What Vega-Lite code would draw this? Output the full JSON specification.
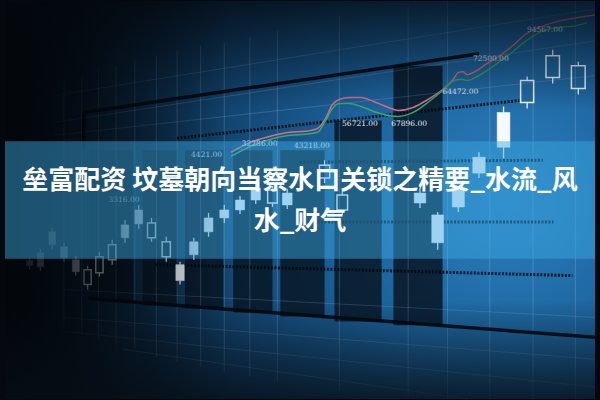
{
  "$schema": "https://vega.github.io/schema/vega-lite/v6.json",
  "width": 600,
  "height": 400,
  "autosize": {"type": "fit", "contains": "padding"},
  "padding": 0,
  "background": "#05090f",
  "config": {"view": {"stroke": null}},
  "datasets": {
    "canvas": [{"x": 0, "x2": 600, "y": 0, "y2": 400}],
    "leftshade": [{"x": 0, "x2": 230, "y": 0, "y2": 400}],
    "topshade": [{"x": 0, "x2": 600, "y": 0, "y2": 110}],
    "bottomshade": [{"x": 0, "x2": 600, "y": 300, "y2": 400}],
    "band": [{"x": 0, "x2": 600, "y": 141, "y2": 259}],
    "vgrid": [
      {"t": 60, "top": 80, "bottom": 330}, {"t": 78, "top": 75, "bottom": 335},
      {"t": 95, "top": 70, "bottom": 340}, {"t": 113, "top": 65, "bottom": 345},
      {"t": 132, "top": 60, "bottom": 350}, {"t": 154, "top": 55, "bottom": 358},
      {"t": 175, "top": 50, "bottom": 363}, {"t": 199, "top": 45, "bottom": 368},
      {"t": 223, "top": 42, "bottom": 373}, {"t": 249, "top": 36, "bottom": 378},
      {"t": 277, "top": 30, "bottom": 383}, {"t": 340, "top": 15, "bottom": 392},
      {"t": 410, "top": 5, "bottom": 398}, {"t": 450, "top": 0, "bottom": 400},
      {"t": 493, "top": 0, "bottom": 400}, {"t": 537, "top": 0, "bottom": 400},
      {"t": 580, "top": 0, "bottom": 400}
    ],
    "sgrid": [
      {"x": 50, "y": 95, "x2": 600, "y2": 8}, {"x": 50, "y": 122, "x2": 600, "y2": 40},
      {"x": 50, "y": 135, "x2": 600, "y2": 75}, {"x": 60, "y": 290, "x2": 600, "y2": 318},
      {"x": 60, "y": 318, "x2": 600, "y2": 360}, {"x": 60, "y": 332, "x2": 600, "y2": 388},
      {"x": 120, "y": 350, "x2": 470, "y2": 400}
    ],
    "panels": [
      {"x": 86, "x2": 130, "y": 150, "y2": 302}, {"x": 140, "x2": 175, "y": 150, "y2": 306},
      {"x": 183, "x2": 222, "y": 150, "y2": 309}, {"x": 232, "x2": 272, "y": 150, "y2": 313},
      {"x": 280, "x2": 325, "y": 150, "y2": 317}, {"x": 335, "x2": 383, "y": 120, "y2": 322},
      {"x": 395, "x2": 445, "y": 65, "y2": 326}
    ],
    "solidstrokes": [
      {"x": 80, "y": 112, "x2": 482, "y2": 53}, {"x": 80, "y": 112, "x2": 80, "y2": 150},
      {"x": 84, "y": 299, "x2": 600, "y2": 338}
    ],
    "dottedstrokes": [
      {"x": 175, "y": 138, "x2": 523, "y2": 100}, {"x": 300, "y": 162, "x2": 547, "y2": 160},
      {"x": 300, "y": 222, "x2": 558, "y2": 222}, {"x": 153, "y": 265, "x2": 577, "y2": 276}
    ],
    "candles": [
      {"t": 25, "bodyTop": 261, "bodyBot": 266, "hi": 258, "lo": 270, "kind": "filled"},
      {"t": 36, "bodyTop": 253, "bodyBot": 267, "hi": 249, "lo": 271, "kind": "filled"},
      {"t": 48, "bodyTop": 232, "bodyBot": 245, "hi": 228, "lo": 250, "kind": "filled"},
      {"t": 60, "bodyTop": 247, "bodyBot": 258, "hi": 243, "lo": 262, "kind": "filled"},
      {"t": 72, "bodyTop": 260, "bodyBot": 272, "hi": 256, "lo": 276, "kind": "filled"},
      {"t": 84, "bodyTop": 270, "bodyBot": 285, "hi": 266, "lo": 290, "kind": "hollow"},
      {"t": 96, "bodyTop": 257, "bodyBot": 273, "hi": 252, "lo": 277, "kind": "hollow"},
      {"t": 109, "bodyTop": 245, "bodyBot": 260, "hi": 240, "lo": 265, "kind": "hollow"},
      {"t": 122, "bodyTop": 225, "bodyBot": 238, "hi": 220, "lo": 243, "kind": "filled"},
      {"t": 136, "bodyTop": 210, "bodyBot": 224, "hi": 205, "lo": 229, "kind": "filled"},
      {"t": 149, "bodyTop": 223, "bodyBot": 238, "hi": 218, "lo": 242, "kind": "hollow"},
      {"t": 164, "bodyTop": 242, "bodyBot": 257, "hi": 237, "lo": 262, "kind": "hollow"},
      {"t": 178, "bodyTop": 265, "bodyBot": 281, "hi": 262, "lo": 285, "kind": "filled"},
      {"t": 192, "bodyTop": 242, "bodyBot": 255, "hi": 238, "lo": 260, "kind": "filled"},
      {"t": 207, "bodyTop": 218, "bodyBot": 232, "hi": 213, "lo": 237, "kind": "filled"},
      {"t": 223, "bodyTop": 210, "bodyBot": 218, "hi": 205, "lo": 223, "kind": "filled"},
      {"t": 239, "bodyTop": 200, "bodyBot": 210, "hi": 196, "lo": 214, "kind": "filled"},
      {"t": 255, "bodyTop": 188, "bodyBot": 200, "hi": 184, "lo": 204, "kind": "filled"},
      {"t": 272, "bodyTop": 190, "bodyBot": 203, "hi": 186, "lo": 207, "kind": "hollow"},
      {"t": 287, "bodyTop": 193, "bodyBot": 205, "hi": 189, "lo": 209, "kind": "filled"},
      {"t": 325, "bodyTop": 165, "bodyBot": 178, "hi": 160, "lo": 183, "kind": "hollow"},
      {"t": 343, "bodyTop": 195, "bodyBot": 210, "hi": 190, "lo": 215, "kind": "hollow"},
      {"t": 422, "bodyTop": 193, "bodyBot": 203, "hi": 188, "lo": 208, "kind": "filled"},
      {"t": 440, "bodyTop": 215, "bodyBot": 243, "hi": 212, "lo": 250, "kind": "filled"},
      {"t": 461, "bodyTop": 190, "bodyBot": 207, "hi": 186, "lo": 212, "kind": "filled"},
      {"t": 482, "bodyTop": 157, "bodyBot": 173, "hi": 152, "lo": 178, "kind": "filled"},
      {"t": 507, "bodyTop": 112, "bodyBot": 147, "hi": 106, "lo": 158, "kind": "filled"},
      {"t": 531, "bodyTop": 80, "bodyBot": 102, "hi": 76, "lo": 108, "kind": "hollow"},
      {"t": 557, "bodyTop": 55, "bodyBot": 77, "hi": 49, "lo": 83, "kind": "hollow"},
      {"t": 583, "bodyTop": 65, "bodyBot": 88, "hi": 61, "lo": 94, "kind": "hollow"}
    ],
    "ma": [
      {"t": 230, "v": 152, "series": "MA5"}, {"t": 250, "v": 142, "series": "MA5"},
      {"t": 270, "v": 136, "series": "MA5"}, {"t": 290, "v": 132, "series": "MA5"},
      {"t": 305, "v": 131, "series": "MA5"}, {"t": 318, "v": 128, "series": "MA5"},
      {"t": 326, "v": 118, "series": "MA5"}, {"t": 333, "v": 104, "series": "MA5"},
      {"t": 340, "v": 99, "series": "MA5"}, {"t": 350, "v": 97, "series": "MA5"},
      {"t": 362, "v": 97, "series": "MA5"}, {"t": 375, "v": 101, "series": "MA5"},
      {"t": 390, "v": 107, "series": "MA5"}, {"t": 400, "v": 110, "series": "MA5"},
      {"t": 415, "v": 107, "series": "MA5"}, {"t": 430, "v": 99, "series": "MA5"},
      {"t": 445, "v": 89, "series": "MA5"}, {"t": 455, "v": 80, "series": "MA5"},
      {"t": 461, "v": 72, "series": "MA5"}, {"t": 466, "v": 71, "series": "MA5"},
      {"t": 470, "v": 74, "series": "MA5"}, {"t": 478, "v": 71, "series": "MA5"},
      {"t": 490, "v": 63, "series": "MA5"}, {"t": 500, "v": 57, "series": "MA5"},
      {"t": 515, "v": 46, "series": "MA5"}, {"t": 530, "v": 33, "series": "MA5"},
      {"t": 545, "v": 26, "series": "MA5"}, {"t": 560, "v": 21, "series": "MA5"},
      {"t": 580, "v": 17, "series": "MA5"}, {"t": 600, "v": 14, "series": "MA5"},
      {"t": 230, "v": 156, "series": "MA10"}, {"t": 250, "v": 146, "series": "MA10"},
      {"t": 270, "v": 139, "series": "MA10"}, {"t": 290, "v": 135, "series": "MA10"},
      {"t": 305, "v": 134, "series": "MA10"}, {"t": 318, "v": 132, "series": "MA10"},
      {"t": 326, "v": 120, "series": "MA10"}, {"t": 333, "v": 108, "series": "MA10"},
      {"t": 340, "v": 103, "series": "MA10"}, {"t": 350, "v": 103, "series": "MA10"},
      {"t": 362, "v": 106, "series": "MA10"}, {"t": 375, "v": 111, "series": "MA10"},
      {"t": 390, "v": 115, "series": "MA10"}, {"t": 400, "v": 116, "series": "MA10"},
      {"t": 415, "v": 112, "series": "MA10"}, {"t": 430, "v": 102, "series": "MA10"},
      {"t": 445, "v": 90, "series": "MA10"}, {"t": 455, "v": 81, "series": "MA10"},
      {"t": 461, "v": 79, "series": "MA10"}, {"t": 466, "v": 79, "series": "MA10"},
      {"t": 470, "v": 80, "series": "MA10"}, {"t": 478, "v": 77, "series": "MA10"},
      {"t": 490, "v": 70, "series": "MA10"}, {"t": 500, "v": 63, "series": "MA10"},
      {"t": 515, "v": 52, "series": "MA10"}, {"t": 530, "v": 40, "series": "MA10"},
      {"t": 545, "v": 31, "series": "MA10"}, {"t": 560, "v": 27, "series": "MA10"},
      {"t": 580, "v": 25, "series": "MA10"}, {"t": 592, "v": 22, "series": "MA10"}
    ],
    "labels": [
      {"t": 549, "v": 29, "label": "94567.00"},
      {"t": 494, "v": 58, "label": "72500.00"},
      {"t": 463, "v": 91, "label": "64472.00"},
      {"t": 361, "v": 124, "label": "56721.00"},
      {"t": 411, "v": 124, "label": "67896.00"},
      {"t": 312, "v": 146, "label": "43218.00"},
      {"t": 259, "v": 144, "label": "32286.00"},
      {"t": 205, "v": 155, "label": "4421.00"},
      {"t": 121, "v": 200, "label": "3316.00"}
    ],
    "title": [
      {"t": 300, "v": 181, "text": "垒富配资 坟墓朝向当察水口关锁之精要_水流_风"},
      {"t": 300, "v": 222, "text": "水_财气"}
    ]
  },
  "encoding": {
    "x": {"field": "x", "type": "quantitative", "scale": {"domain": [0, 600], "nice": false, "zero": false}, "axis": null},
    "y": {"field": "y", "type": "quantitative", "scale": {"domain": [0, 400], "nice": false, "zero": false, "reverse": true}, "axis": null}
  },
  "layer": [
    {
      "data": {"name": "canvas"},
      "mark": {"type": "rect", "fill": {"gradient": "radial", "x1": 0.85, "y1": 0.5, "r1": 0, "x2": 0.85, "y2": 0.5, "r2": 0.95,
        "stops": [{"offset": 0, "color": "#2a7fbd"}, {"offset": 0.3, "color": "#1c629c"}, {"offset": 0.6, "color": "#0f3a60"}, {"offset": 0.85, "color": "#071a2c"}, {"offset": 1, "color": "#03080e"}]}},
      "encoding": {"x2": {"field": "x2"}, "y2": {"field": "y2"}}
    },
    {
      "data": {"name": "panels"},
      "mark": {"type": "rect", "fill": "#081624", "opacity": 0.85},
      "encoding": {"x2": {"field": "x2"}, "y2": {"field": "y2"}}
    },
    {
      "data": {"name": "vgrid"},
      "mark": {"type": "rule", "stroke": "#cfe6ff", "strokeWidth": 1, "opacity": 0.2},
      "encoding": {"x": {"field": "t", "type": "quantitative"}, "y": {"field": "top", "type": "quantitative"}, "y2": {"field": "bottom"}}
    },
    {
      "data": {"name": "sgrid"},
      "mark": {"type": "rule", "stroke": "#cfe6ff", "strokeWidth": 1, "opacity": 0.16},
      "encoding": {"x2": {"field": "x2"}, "y2": {"field": "y2"}}
    },
    {
      "data": {"name": "solidstrokes"},
      "mark": {"type": "rule", "stroke": "#03080e", "strokeWidth": 3.5, "opacity": 0.9},
      "encoding": {"x2": {"field": "x2"}, "y2": {"field": "y2"}}
    },
    {
      "data": {"name": "dottedstrokes"},
      "mark": {"type": "rule", "stroke": "#03080e", "strokeWidth": 3, "strokeDash": [2, 1.5], "opacity": 0.85},
      "encoding": {"x2": {"field": "x2"}, "y2": {"field": "y2"}}
    },
    {
      "data": {"name": "candles"},
      "mark": {"type": "rule", "stroke": "#f2f8ff", "strokeWidth": 1.3},
      "encoding": {"x": {"field": "t", "type": "quantitative"}, "y": {"field": "hi", "type": "quantitative"}, "y2": {"field": "bodyTop"}}
    },
    {
      "data": {"name": "candles"},
      "mark": {"type": "rule", "stroke": "#f2f8ff", "strokeWidth": 1.3},
      "encoding": {"x": {"field": "t", "type": "quantitative"}, "y": {"field": "bodyBot", "type": "quantitative"}, "y2": {"field": "lo"}}
    },
    {
      "data": {"name": "candles"},
      "transform": [{"filter": "datum.kind === 'filled'"}],
      "mark": {"type": "bar", "fill": "#f4faff", "stroke": "#ffffff", "strokeWidth": 0.5},
      "encoding": {
        "x": {"field": "t", "type": "quantitative"},
        "y": {"field": "bodyTop", "type": "quantitative"},
        "y2": {"field": "bodyBot"},
        "size": {"field": "t", "type": "quantitative", "scale": {"domain": [0, 600], "range": [6, 14]}, "legend": null}
      }
    },
    {
      "data": {"name": "candles"},
      "transform": [{"filter": "datum.kind === 'hollow'"}],
      "mark": {"type": "bar", "fill": "transparent", "stroke": "#f4faff", "strokeWidth": 1.5},
      "encoding": {
        "x": {"field": "t", "type": "quantitative"},
        "y": {"field": "bodyTop", "type": "quantitative"},
        "y2": {"field": "bodyBot"},
        "size": {"field": "t", "type": "quantitative", "scale": {"domain": [0, 600], "range": [6, 14]}, "legend": null}
      }
    },
    {
      "data": {"name": "ma"},
      "mark": {"type": "line", "strokeWidth": 1.5, "interpolate": "monotone"},
      "encoding": {
        "x": {"field": "t", "type": "quantitative"},
        "y": {"field": "v", "type": "quantitative"},
        "color": {"field": "series", "type": "nominal", "scale": {"domain": ["MA5", "MA10"], "range": ["#d86e80", "#3aa866"]}, "legend": null}
      }
    },
    {
      "data": {"name": "labels"},
      "mark": {"type": "text", "font": "DejaVu Serif", "fontSize": 7.5, "fill": "#e4ecf4", "align": "center", "baseline": "middle"},
      "encoding": {
        "x": {"field": "t", "type": "quantitative"},
        "y": {"field": "v", "type": "quantitative"},
        "text": {"field": "label"}
      }
    },
    {
      "data": {"name": "leftshade"},
      "mark": {"type": "rect", "fill": {"gradient": "linear", "x1": 0, "y1": 0, "x2": 1, "y2": 0,
        "stops": [{"offset": 0, "color": "rgba(2,5,9,0.97)"}, {"offset": 0.35, "color": "rgba(2,5,9,0.75)"}, {"offset": 1, "color": "rgba(2,5,9,0)"}]}},
      "encoding": {"x2": {"field": "x2"}, "y2": {"field": "y2"}}
    },
    {
      "data": {"name": "topshade"},
      "mark": {"type": "rect", "fill": {"gradient": "linear", "x1": 0, "y1": 0, "x2": 0, "y2": 1,
        "stops": [{"offset": 0, "color": "rgba(3,8,14,0.75)"}, {"offset": 1, "color": "rgba(3,8,14,0)"}]}},
      "encoding": {"x2": {"field": "x2"}, "y2": {"field": "y2"}}
    },
    {
      "data": {"name": "bottomshade"},
      "mark": {"type": "rect", "fill": {"gradient": "linear", "x1": 0, "y1": 0, "x2": 0, "y2": 1,
        "stops": [{"offset": 0, "color": "rgba(6,14,22,0)"}, {"offset": 1, "color": "rgba(6,14,22,0.8)"}]}},
      "encoding": {"x2": {"field": "x2"}, "y2": {"field": "y2"}}
    },
    {
      "data": {"name": "band"},
      "mark": {"type": "rect", "fill": "#3ca8e2", "opacity": 0.47},
      "encoding": {"x2": {"field": "x2"}, "y2": {"field": "y2"}}
    },
    {
      "data": {"name": "title"},
      "mark": {"type": "text", "font": "Noto Sans CJK SC", "fontSize": 26, "fontWeight": "bold", "fill": "#ffffff", "align": "center", "baseline": "middle"},
      "encoding": {
        "x": {"field": "t", "type": "quantitative"},
        "y": {"field": "v", "type": "quantitative"},
        "text": {"field": "text"}
      }
    }
  ]
}
